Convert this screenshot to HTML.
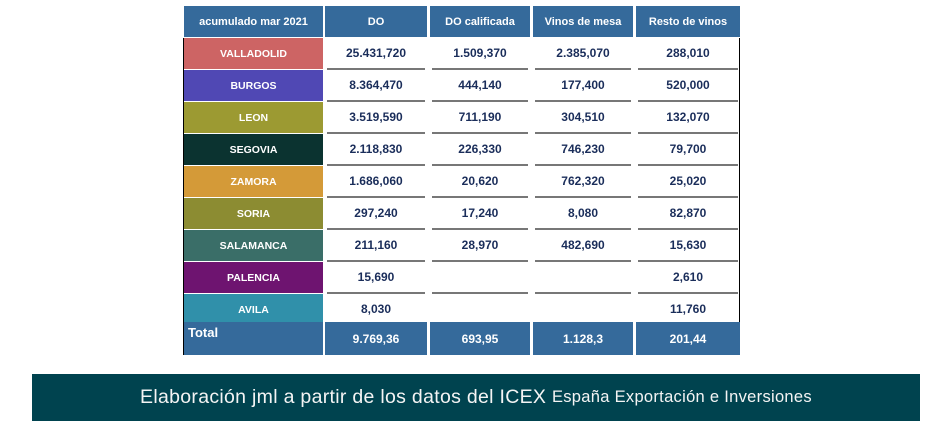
<!DOCTYPE html>
<html><head><meta charset="utf-8">
<style>
body{margin:0;width:948px;height:425px;background:#fff;position:relative;overflow:hidden;font-family:"Liberation Sans",sans-serif}
.c{position:absolute;display:flex;align-items:center;justify-content:center;box-sizing:border-box;font-weight:bold;font-size:11.5px}
.h{background:#356a9b;color:#fff;font-size:11px}
.n{color:#1a2d5a;font-size:12px}
.sep{position:absolute;height:2px;background:#777}
</style></head><body>
<div id="tbl"></div>
<div style="position:absolute;left:32px;top:374px;width:888px;height:47px;background:#00434f;color:#f4f4f4;display:flex;align-items:center;justify-content:center;font-size:19.5px;letter-spacing:0.3px">Elaboración jml a partir de los datos del ICEX&nbsp;<span style="font-size:16.5px">España Exportación e Inversiones</span></div>
<script>
const headers=["acumulado mar 2021","DO","DO calificada","Vinos de mesa","Resto de vinos"];
const provinces=["VALLADOLID","BURGOS","LEON","SEGOVIA","ZAMORA","SORIA","SALAMANCA","PALENCIA","AVILA"];
const provColors=["#cd6464","#5048b4","#9c9a32","#0b3330","#d49a38","#8c8c32","#3a6e68","#6e1470","#3090aa"];
const colDO=["25.431,720","8.364,470","3.519,590","2.118,830","1.686,060","297,240","211,160","15,690","8,030"];
const colDOCa=["1.509,370","444,140","711,190","226,330","20,620","17,240","28,970","",""];
const colMesa=["2.385,070","177,400","304,510","746,230","762,320","8,080","482,690","",""];
const colResto=["288,010","520,000","132,070","79,700","25,020","82,870","15,630","2,610","11,760"];
const totals=["9.769,36","693,95","1.128,3","201,44"];
const xs=[184,325,430,533,636], ws=[139,102,100,100,104];
const root=document.getElementById('tbl');
function cell(x,y,w,h,txt,cls,bg){const d=document.createElement('div');d.className='c '+cls;d.style.left=x+'px';d.style.top=y+'px';d.style.width=w+'px';d.style.height=h+'px';if(bg)d.style.background=bg;d.textContent=txt;root.appendChild(d);return d;}
headers.forEach((t,i)=>{const d=cell(xs[i],6,ws[i],31,t,'h');

});
const cols=[colDO,colDOCa,colMesa,colResto];
provinces.forEach((p,r)=>{const y=38+r*32;
const d=cell(184,y,139,31,p,'',provColors[r]);d.style.color='#fff';d.style.fontSize='10.5px';


cols.forEach((c,j)=>{const e=cell(xs[j+1],y,ws[j+1],30,c[r],'n');


const s=document.createElement('div');s.className='sep';s.style.left=(xs[j+1]+2)+'px';s.style.top=(y+30)+'px';s.style.width=(ws[j+1]-4)+'px';root.appendChild(s);});});
const tl=cell(184,322,139,33,'Total','h');tl.style.alignItems='flex-start';tl.style.justifyContent='flex-start';tl.style.padding='3px 4px';tl.style.fontSize='13px';


totals.forEach((t,j)=>{const e=cell(xs[j+1],322,ws[j+1],33,t,'h');e.style.fontSize='12px';

});
const lb=document.createElement('div');lb.style.cssText='position:absolute;left:183px;top:38px;width:1px;height:317px;background:#000';root.appendChild(lb);
const rb=document.createElement('div');rb.style.cssText='position:absolute;left:739px;top:38px;width:1px;height:284px;background:#000';root.appendChild(rb);
</script>
</body></html>
